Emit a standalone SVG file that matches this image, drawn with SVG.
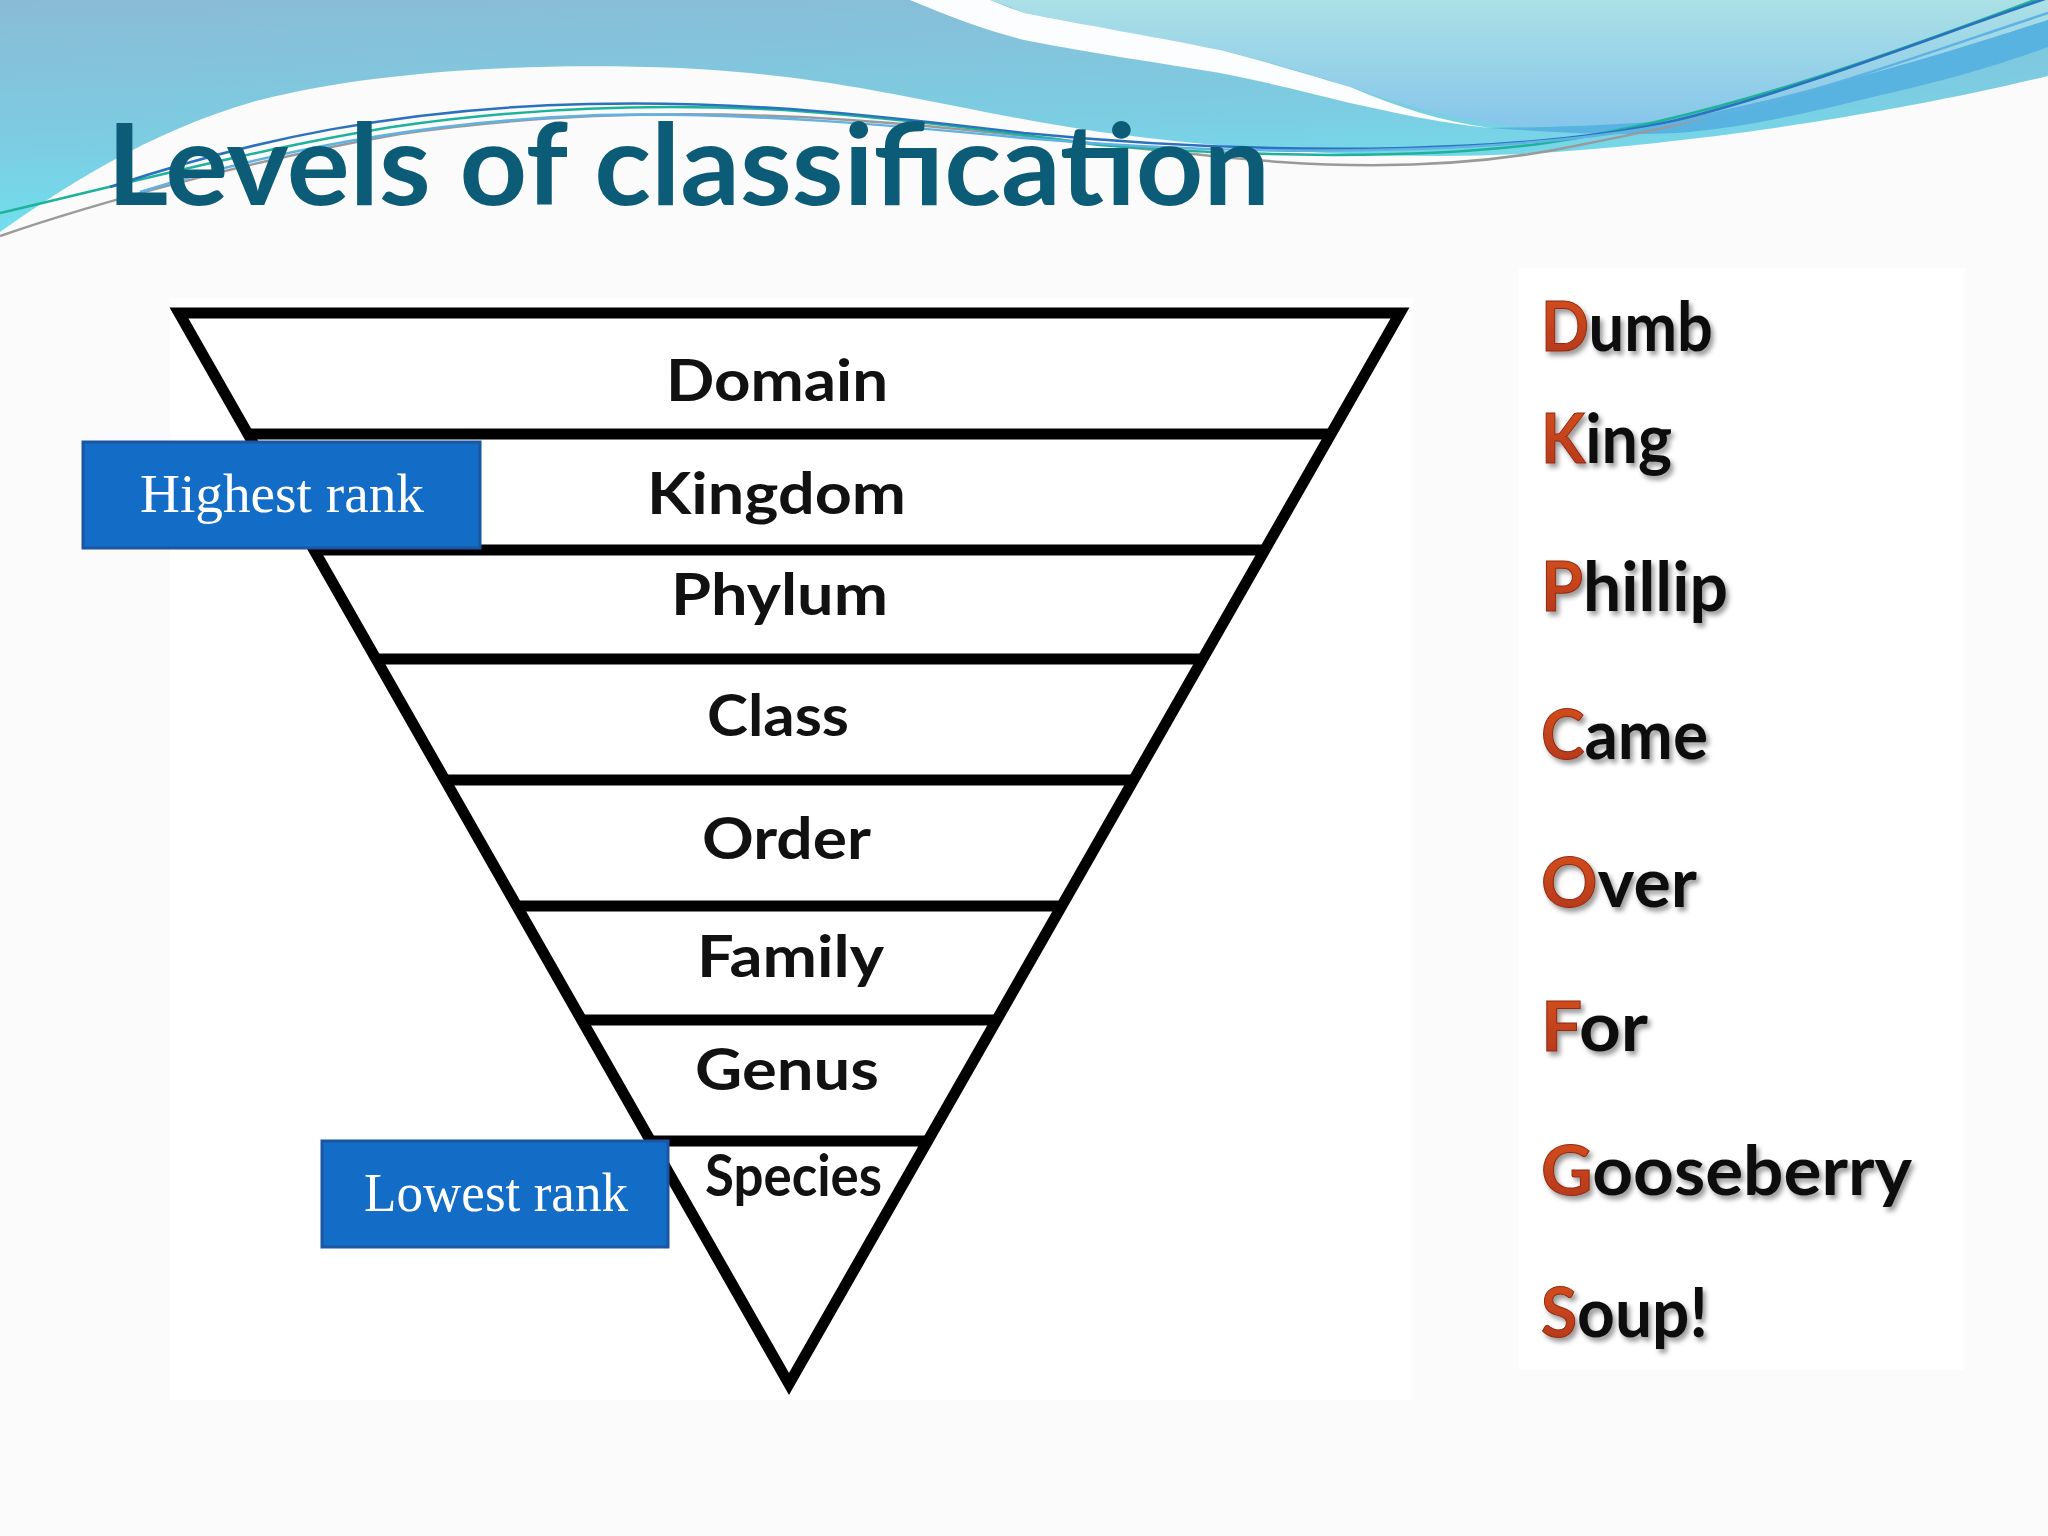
<svg xmlns="http://www.w3.org/2000/svg" width="2048" height="1536" viewBox="0 0 2048 1536">
  <defs>
    <linearGradient id="gBlue" x1="0" y1="0" x2="0.25" y2="1">
      <stop offset="0" stop-color="#8abbd6"/>
      <stop offset="0.6" stop-color="#7ccde2"/>
      <stop offset="1" stop-color="#6ee2ef"/>
    </linearGradient>
    <linearGradient id="gLight" x1="0" y1="0" x2="0" y2="1">
      <stop offset="0" stop-color="#abe0e6"/>
      <stop offset="1" stop-color="#86c6ea"/>
    </linearGradient>
    <linearGradient id="gRed" x1="0" y1="0" x2="0" y2="1">
      <stop offset="0" stop-color="#d9521e"/>
      <stop offset="1" stop-color="#b1351a"/>
    </linearGradient>
    <filter id="shadow" x="-5%" y="-5%" width="115%" height="115%">
      <feDropShadow dx="3" dy="4" stdDeviation="2.5" flood-color="#000" flood-opacity="0.4"/>
    </filter>
    <style>
      .lvl { font-family: Lato, "Liberation Sans", sans-serif; font-weight: bold; font-size: 58px; fill: #111; }
      .edge { stroke: #000; stroke-width: 11; fill: none; stroke-linecap: butt; }
      .rank { fill: #136cc5; stroke: #1b56a2; stroke-width: 3; }
      .rankText { font-family: "Liberation Serif", "DejaVu Serif", serif; font-size: 54px; fill: #fff; }
      .mn { font-family: Lato, "DejaVu Sans", sans-serif; font-weight: bold; font-size: 68px; fill: #111; filter: url(#shadow); }
      .ini { fill: url(#gRed); stroke: #8e2a12; stroke-width: 1; }
      .wl { fill: none; stroke-width: 2.5; }
    </style>
  </defs>

  <!-- slide background -->
  <rect x="0" y="0" width="2048" height="1536" fill="#fbfbfb"/>
  <rect x="170" y="298" width="1243" height="1102" fill="#ffffff"/>
  <rect x="1519" y="268" width="446" height="1102" fill="#ffffff"/>

  <!-- top decorative waves -->
  <g id="banner">
    <path d="M0,232 C60,190 150,130 260,100 C370,72 520,62 680,68 C850,76 950,110 1100,132 C1250,152 1400,160 1520,154 C1700,144 1900,112 2048,76 V0 H0 Z" fill="url(#gBlue)"/>
    <path d="M990,0 C1005,5 1015,9 1024,13 C1090,26 1160,38 1220,50 C1270,62 1310,74 1350,87 C1400,104 1450,118 1520,127 C1580,126 1630,124 1677,120 C1750,105 1810,90 1873,73 C1950,52 2010,32 2048,20 V0 Z" fill="url(#gLight)"/>
    <path d="M910,0 C948,16 985,30 1024,40 C1090,53 1160,63 1220,73 C1270,83 1310,93 1350,103 C1400,114 1440,123 1490,128 C1440,121 1400,108 1350,87 C1300,72 1260,60 1220,50 C1150,36 1080,24 1024,13 C1010,8 1000,4 990,0 Z" fill="#fbfdfe"/>
    <path d="M1490,128 C1560,127 1620,125 1677,120 C1750,105 1810,90 1873,73 C1950,52 2010,32 2048,20 V47 C2000,65 1940,82 1873,97 C1800,115 1740,128 1677,133 C1610,136 1550,132 1490,128 Z" fill="#58b3e0"/>
    <path class="wl" stroke="#9a9a9a" d="M0,236 C90,205 250,160 400,134 C550,112 700,110 850,120 C1000,130 1150,152 1280,162 C1400,170 1500,162 1580,145 C1640,133 1680,125 1710,116"/>
    <path class="wl" stroke="#1db39b" d="M0,213 C100,190 250,150 392,127 C520,108 650,103 784,110 C900,118 1000,132 1100,145 C1250,157 1420,160 1546,143 C1700,120 1850,70 2048,-5"/>
    <path class="wl" stroke="#2a72bf" d="M110,187 C250,140 400,108 588,104 C750,100 900,118 1024,133 C1300,160 1550,150 1677,120 C1800,90 1950,30 2048,-2"/>
    <path class="wl" stroke="#5fb2e2" d="M140,192 C300,142 450,120 600,115 C750,112 900,126 1024,138 C1300,162 1560,150 1700,118 C1800,100 1950,45 2048,13"/>
  </g>

  <!-- title -->
  <text id="title" x="107" y="205" font-family="Lato, 'Liberation Sans', sans-serif" font-weight="bold" font-size="113" fill="#0c5c78" textLength="1163" lengthAdjust="spacingAndGlyphs">Levels of classification</text>

  <!-- connectors: triangle outline and level dividers -->
  <g id="connectors">
    <path class="edge" stroke-linejoin="miter" d="M179,313 L1400,313 L789,1384 Z"/>
    <line class="edge" x1="248" y1="434" x2="1331" y2="434"/>
    <line class="edge" x1="314" y1="550" x2="1265" y2="550"/>
    <line class="edge" x1="376" y1="659" x2="1203" y2="659"/>
    <line class="edge" x1="445" y1="780" x2="1134" y2="780"/>
    <line class="edge" x1="517" y1="906" x2="1062" y2="906"/>
    <line class="edge" x1="582" y1="1020" x2="997" y2="1020"/>
    <line class="edge" x1="651" y1="1141" x2="928" y2="1141"/>
  </g>

  <!-- level nodes -->
  <g id="level-domain"><text class="lvl" x="666" y="401" textLength="222" lengthAdjust="spacingAndGlyphs">Domain</text></g>
  <g id="level-kingdom"><text class="lvl" x="647" y="514" textLength="259" lengthAdjust="spacingAndGlyphs">Kingdom</text></g>
  <g id="level-phylum"><text class="lvl" x="671" y="615" textLength="217" lengthAdjust="spacingAndGlyphs">Phylum</text></g>
  <g id="level-class"><text class="lvl" x="707" y="736" textLength="142" lengthAdjust="spacingAndGlyphs">Class</text></g>
  <g id="level-order"><text class="lvl" x="702" y="859" textLength="169" lengthAdjust="spacingAndGlyphs">Order</text></g>
  <g id="level-family"><text class="lvl" x="697" y="977" textLength="187" lengthAdjust="spacingAndGlyphs">Family</text></g>
  <g id="level-genus"><text class="lvl" x="695" y="1090" textLength="184" lengthAdjust="spacingAndGlyphs">Genus</text></g>
  <g id="level-species"><text class="lvl" x="705" y="1196" font-size="46" textLength="177" lengthAdjust="spacingAndGlyphs">Species</text></g>

  <!-- rank callouts -->
  <g id="highest-rank">
    <rect class="rank" x="83" y="442" width="397" height="106"/>
    <text class="rankText" x="140" y="512" textLength="284" lengthAdjust="spacingAndGlyphs">Highest rank</text>
  </g>
  <g id="lowest-rank">
    <rect class="rank" x="322" y="1141" width="346" height="106"/>
    <text class="rankText" x="364" y="1211" textLength="264" lengthAdjust="spacingAndGlyphs">Lowest rank</text>
  </g>

  <!-- mnemonic -->
  <g id="mnemonic">
    <text class="mn" x="1541" y="351" textLength="172" lengthAdjust="spacingAndGlyphs"><tspan class="ini">D</tspan>umb</text>
    <text class="mn" x="1541" y="463" textLength="131" lengthAdjust="spacingAndGlyphs"><tspan class="ini">K</tspan>ing</text>
    <text class="mn" x="1541" y="611" textLength="187" lengthAdjust="spacingAndGlyphs"><tspan class="ini">P</tspan>hillip</text>
    <text class="mn" x="1541" y="759" textLength="167" lengthAdjust="spacingAndGlyphs"><tspan class="ini">C</tspan>ame</text>
    <text class="mn" x="1541" y="907" textLength="156" lengthAdjust="spacingAndGlyphs"><tspan class="ini">O</tspan>ver</text>
    <text class="mn" x="1541" y="1051" textLength="107" lengthAdjust="spacingAndGlyphs"><tspan class="ini">F</tspan>or</text>
    <text class="mn" x="1541" y="1195" textLength="371" lengthAdjust="spacingAndGlyphs"><tspan class="ini">G</tspan>ooseberry</text>
    <text class="mn" x="1541" y="1337" textLength="167" lengthAdjust="spacingAndGlyphs"><tspan class="ini">S</tspan>oup!</text>
  </g>
</svg>
